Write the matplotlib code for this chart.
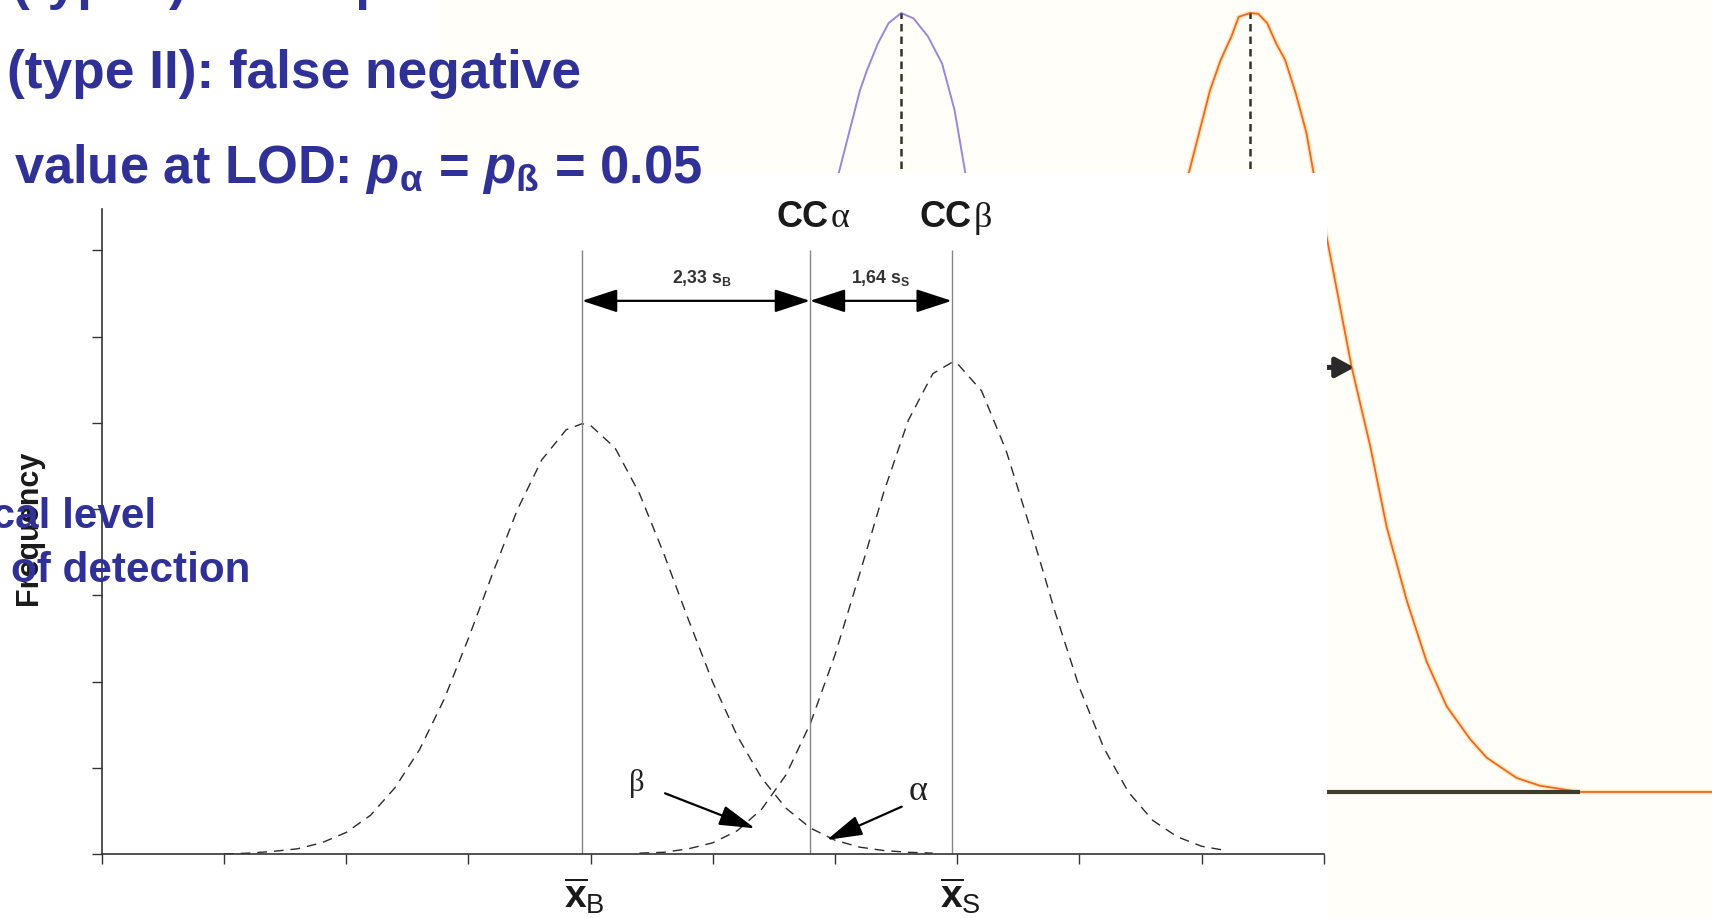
import matplotlib

matplotlib.use("Agg")  # headless-safe
import matplotlib.pyplot as plt
from matplotlib.patches import Rectangle

plt.rcParams.update(
    {
        "font.family": "Liberation Sans",
        "mathtext.fontset": "custom",
        "mathtext.rm": "Liberation Sans",
        "mathtext.it": "Liberation Sans:italic",
        "mathtext.bf": "Liberation Sans:bold",
        "mathtext.bfit": "Liberation Sans:italic:bold",
        "mathtext.sf": "Liberation Sans",
    }
)

# --- main diagram (x in tick units, y in tick units) ---
blank_x = [1.0, 1.2, 1.4, 1.6, 1.8, 2.0, 2.2, 2.4, 2.6, 2.8, 3.0, 3.2, 3.4, 3.6, 3.8, 3.93,
           4.0, 4.2, 4.4, 4.6, 4.8, 5.0, 5.2, 5.4, 5.6, 5.8, 6.0, 6.2, 6.4, 6.6, 6.8]
blank_y = [0.00, 0.01, 0.03, 0.06, 0.13, 0.25, 0.45, 0.77, 1.21, 1.79, 2.50, 3.26, 3.99, 4.57, 4.92, 4.99,
           4.97, 4.71, 4.18, 3.48, 2.72, 1.99, 1.37, 0.88, 0.53, 0.30, 0.16, 0.08, 0.04, 0.02, 0.01]

sample_x = [4.4, 4.6, 4.8, 5.0, 5.2, 5.4, 5.6, 5.8, 6.0, 6.2, 6.4, 6.6, 6.8, 6.955,
            7.0, 7.2, 7.4, 7.6, 7.8, 8.0, 8.2, 8.4, 8.6, 8.8, 9.0, 9.2]
sample_y = [0.01, 0.02, 0.06, 0.13, 0.27, 0.52, 0.92, 1.52, 2.31, 3.24, 4.20, 5.03, 5.57, 5.70,
            5.69, 5.37, 4.68, 3.77, 2.81, 1.93, 1.23, 0.72, 0.39, 0.20, 0.09, 0.04]

x_blank_mean = 3.93
x_cc_alpha = 5.795
x_sample_mean = 6.955
ref_line_top = 7.0
dim_y = 6.415
dim_labels = [r"2,33 s$_\mathbf{B}$", r"1,64 s$_\mathbf{S}$"]

# --- background chromatogram (time units, relative height) ---
purple_t = [9.673, 9.797, 10.047, 10.130, 10.256, 10.381, 10.527, 10.673, 10.840, 11.006, 11.152, 11.278, 11.362]
purple_h = [0.740, 0.794, 0.901, 0.927, 0.961, 0.987, 1.000, 0.993, 0.970, 0.935, 0.875, 0.794, 0.740]

orange_t = [13.785, 13.886, 14.136, 14.261, 14.386, 14.470, 14.603, 14.699, 14.803, 14.908, 15.012,
            15.137, 15.262, 15.346, 15.499, 15.791, 16.005, 16.200, 16.433, 16.667, 16.900, 17.173,
            17.368, 17.718, 17.991, 18.458, 20.0]
orange_h = [0.740, 0.794, 0.901, 0.940, 0.970, 0.995, 1.000, 0.999, 0.987, 0.961, 0.940,
            0.897, 0.846, 0.794, 0.712, 0.545, 0.445, 0.340, 0.246, 0.167, 0.110, 0.068,
            0.044, 0.018, 0.008, 0.000, 0.000]
bg_peak_t = [10.527, 14.603]

slide_lines = [
    "(type I): false positive",
    "(type II): false negative",
    r"value at LOD: $\mathbfit{p}_{\mathbf{\alpha}}$ = $\mathbfit{p}_{\mathbf{ß}}$ = 0.05",
]

W, H = 1712, 918
BLUE = "#2f3196"
CREAM = "#fffef8"


def fx(px):
    return px / W


def fy(py):
    return 1.0 - py / H


fig = plt.figure(figsize=(W / 100, H / 100), dpi=100)
fig.patch.set_facecolor("white")

# background chromatogram image
bg = fig.add_axes([0, 0, 1, 1], zorder=0)
bg.set_xlim(0, 20)
bg.set_ylim(-0.1618, 1.0167)
bg.axis("off")
bg.axvspan(5.14, 20, color=CREAM, zorder=0)
bg.plot(purple_t, purple_h, color="#9c86d8", lw=1.4, zorder=2)
bg.plot(orange_t, orange_h, color="#ffd27a", lw=3.4, alpha=0.5, zorder=2)
bg.plot(orange_t, orange_h, color="#ec682a", lw=1.3, zorder=3)
bg.vlines(bg_peak_t, 0.72, 1.0, colors="#3b2f28", lw=1.8, linestyles=(0, (3, 2)), zorder=4)
bg.hlines(0.0, 15.2, 18.46, colors="#3e3d2b", lw=3.0, zorder=4)
bg.annotate(
    "",
    xy=(15.82, 0.545),
    xytext=(15.3, 0.545),
    arrowprops=dict(arrowstyle="-|>,head_length=1.1,head_width=0.6", mutation_scale=10,
                    lw=3.6, color="#2a2a2a", shrinkA=0, shrinkB=0),
    zorder=5,
)

# white box of the main diagram
fig.add_artist(Rectangle((0, 0), fx(1326.5), fy(173), transform=fig.transFigure,
                         facecolor="white", edgecolor="none", zorder=0.5))

ax = fig.add_axes([fx(101.8), 64 / H, 1222 / W, 645 / H], zorder=1)
ax.patch.set_visible(False)
ax.set_xlim(0, 10)
ax.set_ylim(0, 7.48)
for side in ("top", "right"):
    ax.spines[side].set_visible(False)
for side in ("left", "bottom"):
    ax.spines[side].set_linewidth(1.2)
    ax.spines[side].set_color("#333333")
ax.set_xticks(range(11))
ax.set_yticks(range(8))
ax.tick_params(direction="out", length=7.5, width=1.0, color="#333333",
               labelbottom=False, labelleft=False)

ax.plot(blank_x, blank_y, color="#2b2b2b", lw=1.0, dashes=(7, 5))
ax.plot(sample_x, sample_y, color="#2b2b2b", lw=1.0, dashes=(7, 5))
ax.vlines([x_blank_mean, x_cc_alpha, x_sample_mean], 0, ref_line_top, colors="#858585", lw=1.0)

dim_style = dict(arrowstyle="<|-|>,head_length=2.2,head_width=0.72", mutation_scale=10,
                 lw=1.6, color="black", shrinkA=0, shrinkB=0)
ax.annotate("", xy=(x_cc_alpha, dim_y), xytext=(x_blank_mean, dim_y), arrowprops=dim_style)
ax.annotate("", xy=(x_sample_mean, dim_y), xytext=(x_cc_alpha, dim_y), arrowprops=dim_style)
ax.text((x_blank_mean + x_cc_alpha) / 2 + 0.05, 6.62, dim_labels[0], ha="center", va="baseline",
        fontsize=12.8, fontweight="bold", color="#333333")
ax.text((x_cc_alpha + x_sample_mean) / 2, 6.62, dim_labels[1], ha="center", va="baseline",
        fontsize=12.8, fontweight="bold", color="#333333")

# CC labels
for split_x, greek in ((5.943, "α"), (7.117, "β")):
    ax.text(split_x, 7.274, "CC", ha="right", va="baseline", fontsize=26,
            fontweight="bold", color="#1a1a1a")
    ax.text(split_x + 0.02, 7.274, greek, ha="left", va="baseline", fontsize=26,
            family="Liberation Serif", color="#1a1a1a")

# error callouts
pointer = dict(arrowstyle="-|>,head_length=2.2,head_width=0.62", mutation_scale=10,
               lw=1.6, color="black", shrinkA=0, shrinkB=0)
ax.text(4.38, 0.73, "β", ha="center", va="baseline", fontsize=22,
        family="Liberation Serif", color="#222222")
ax.annotate("", xy=(5.345, 0.298), xytext=(4.609, 0.704), arrowprops=pointer)
ax.text(6.68, 0.626, "α", ha="center", va="baseline", fontsize=26,
        family="Liberation Serif", color="#222222")
ax.annotate("", xy=(5.932, 0.162), xytext=(6.546, 0.549), arrowprops=pointer)

# mean labels
ax.text(x_blank_mean + 0.02, -0.626, r"$\overline{\mathbf{x}}_{\mathrm{B}}$", ha="center",
        va="baseline", fontsize=28, color="#1a1a1a")
ax.text(x_sample_mean + 0.07, -0.626, r"$\overline{\mathbf{x}}_{\mathrm{S}}$", ha="center",
        va="baseline", fontsize=28, color="#1a1a1a")

fig.text(fx(29), fy(528), "Frequency", rotation=90, ha="center", va="center",
         fontsize=22, fontweight="bold", color="#1a1a1a", zorder=3)

# slide text on top
fig.text(fx(12), fy(-1), slide_lines[0], ha="left", va="baseline", fontsize=38.3,
         fontweight="bold", color=BLUE, zorder=6)
fig.text(fx(7), fy(88), slide_lines[1], ha="left", va="baseline", fontsize=38.3,
         fontweight="bold", color=BLUE, zorder=6)
fig.text(fx(14), fy(183), slide_lines[2], ha="left", va="baseline", fontsize=37.8,
         fontweight="bold", color=BLUE, zorder=6)
fig.text(fx(156), fy(528), "Critical level", ha="right", va="baseline", fontsize=30.4,
         fontweight="bold", color=BLUE, zorder=6)
fig.text(fx(11), fy(581.7), "of detection", ha="left", va="baseline", fontsize=30.4,
         fontweight="bold", color=BLUE, zorder=6)

fig.savefig("out.png", dpi=100)
plt.close(fig)
